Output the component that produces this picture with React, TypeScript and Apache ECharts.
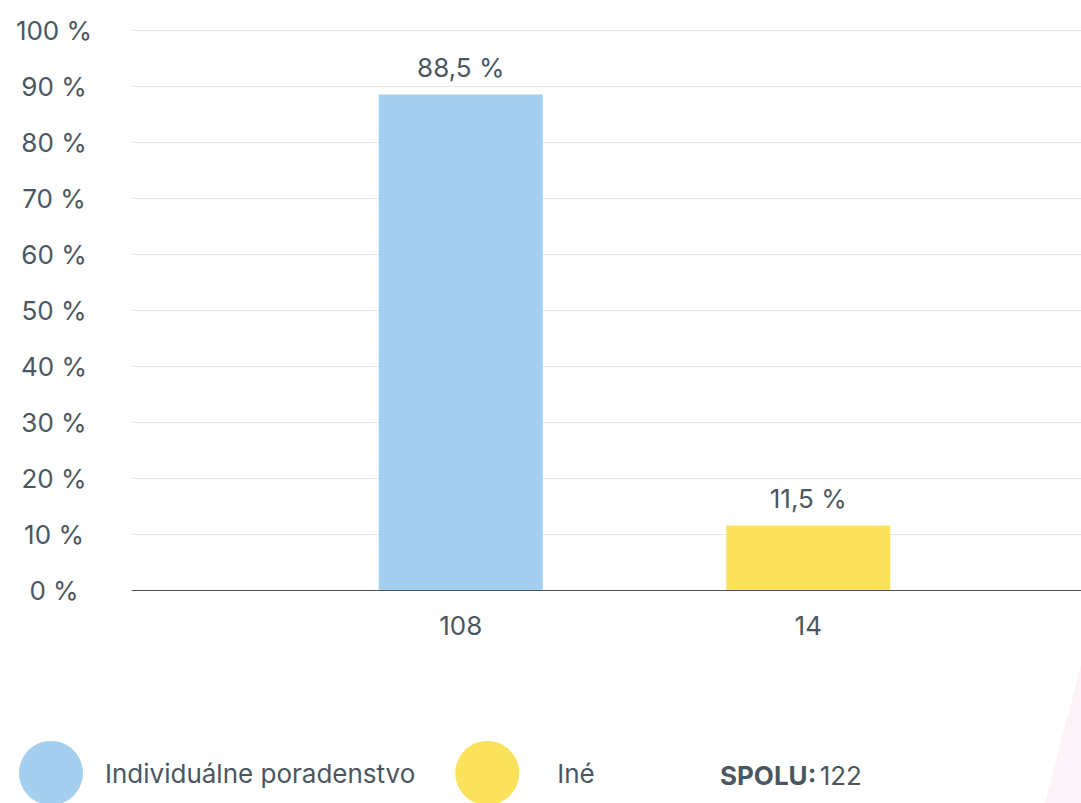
import React, { useEffect, useRef } from "react";
import * as echarts from "echarts";

const categories = ["108", "14"];
const seriesNames = ["Individuálne poradenstvo", "Iné"];
const individualne = [88.5, "-"];
const ine = ["-", 11.5];
const valueLabels = ["88,5 %", "11,5 %"];
const yTicks = [0, 10, 20, 30, 40, 50, 60, 70, 80, 90, 100];
const totalLabel = "SPOLU:";
const totalValue = "122";

const TEXT = "#4b5760";
const FONT = "Inter, 'Noto Sans', sans-serif";

export default function App() {
  const ref = useRef<HTMLDivElement>(null);
  useEffect(() => {
    document.body.style.margin = "0";
    const chart = echarts.init(ref.current!, null, { renderer: "svg" });
    const labelFmt = (p: any) => valueLabels[p.dataIndex];
    chart.setOption({
      animation: false,
      backgroundColor: "#ffffff",
      textStyle: { fontFamily: FONT },
      grid: [
        { left: 132, right: 0, top: 30, bottom: 213 },
        { left: 287, right: 99, top: 30, bottom: 213 },
      ],
      xAxis: [
        {
          gridIndex: 0,
          type: "category",
          data: ["", ""],
          axisLine: { show: true, lineStyle: { color: "#48535a", width: 1 } },
          axisTick: { show: false },
          axisLabel: { show: false },
        },
        {
          gridIndex: 1,
          type: "category",
          data: categories,
          axisLine: { show: false },
          axisTick: { show: false },
          axisLabel: { color: TEXT, fontSize: 26, margin: 22, fontFamily: FONT },
        },
      ],
      yAxis: [
        {
          gridIndex: 0,
          type: "value",
          min: 0,
          max: 100,
          interval: 10,
          axisLine: { show: false },
          axisTick: { show: false },
          splitLine: { lineStyle: { color: "#e3e8ec", width: 1 } },
          axisLabel: {
            color: TEXT,
            fontSize: 26,
            align: "center",
            margin: 78,
            fontFamily: FONT,
            formatter: (v: number) => (yTicks.includes(v) ? v + " %" : ""),
          },
        },
        {
          gridIndex: 1,
          type: "value",
          min: 0,
          max: 100,
          interval: 10,
          show: false,
        },
      ],
      legend: {
        left: 19,
        top: 741,
        padding: 0,
        icon: "circle",
        itemWidth: 64,
        itemHeight: 64,
        itemGap: 40,
        data: [
          { name: seriesNames[0] },
          { name: seriesNames[1], textStyle: { padding: [15, 0, 0, 33] } },
        ],
        textStyle: { color: TEXT, fontSize: 26, fontFamily: FONT, padding: [15, 0, 0, 17] },
      },
      series: [
        {
          name: seriesNames[0],
          type: "bar",
          xAxisIndex: 1,
          yAxisIndex: 1,
          stack: "s",
          barWidth: 164,
          data: individualne,
          itemStyle: { color: "#a4cfee" },
          label: { show: true, position: "top", distance: 14, color: TEXT, fontSize: 26, fontFamily: FONT, formatter: labelFmt },
        },
        {
          name: seriesNames[1],
          type: "bar",
          xAxisIndex: 1,
          yAxisIndex: 1,
          stack: "s",
          barWidth: 164,
          data: ine,
          itemStyle: { color: "#fbe25c" },
          label: { show: true, position: "top", distance: 14, color: TEXT, fontSize: 26, fontFamily: FONT, formatter: labelFmt },
        },
      ],
      graphic: [
        {
          type: "polygon",
          silent: true,
          z: -10,
          shape: { points: [[1081, 665], [1081, 803], [1045, 803]] },
          style: { fill: "#fbf3f7" },
        },
        {
          type: "text",
          left: 720,
          top: 762,
          style: {
            rich: {
              b: { fontWeight: "bold", fontSize: 26, fill: TEXT, fontFamily: FONT },
              n: { fontSize: 26, fill: TEXT, fontFamily: FONT },
            },
            text: "{b|" + totalLabel + "} {n|" + totalValue + "}",
          },
        },
      ],
    });
    return () => chart.dispose();
  }, []);
  return (
    <div
      ref={ref}
      style={{ position: "absolute", left: 0, top: 0, width: 1081, height: 803 }}
    />
  );
}
